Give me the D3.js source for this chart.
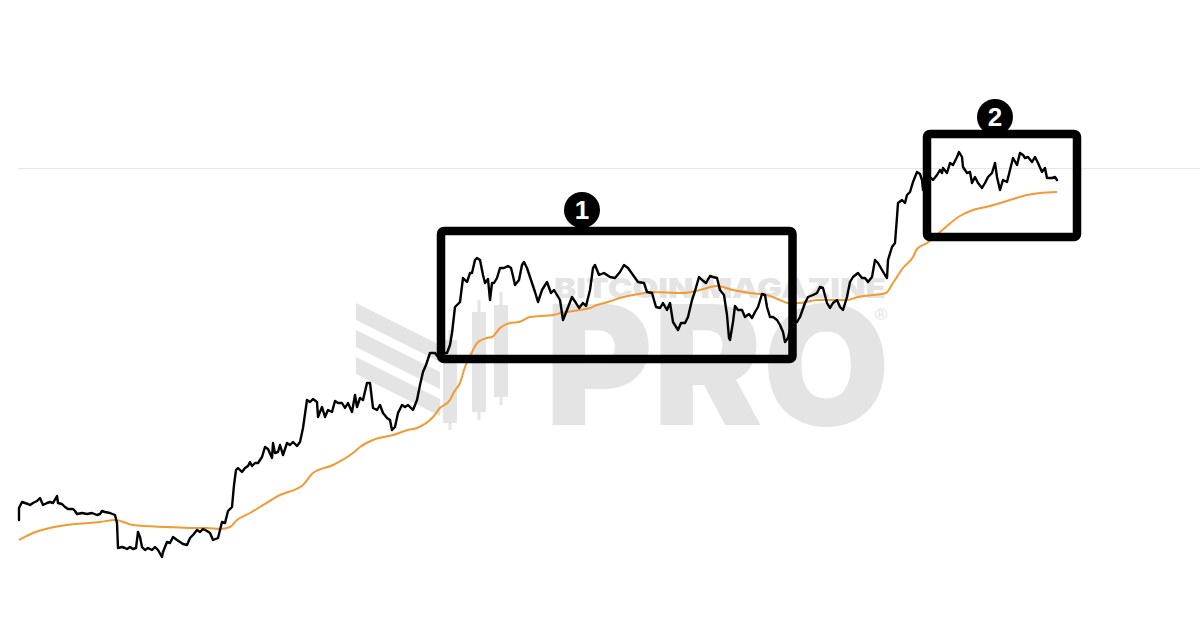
<!DOCTYPE html>
<html>
<head>
<meta charset="utf-8">
<script src="https://cdn.jsdelivr.net/npm/d3@7"></script>
<style>
html,body{margin:0;padding:0;background:#fff;}
svg{display:block;}
</style>
</head>
<body>
<svg id="chart" width="1200" height="619"></svg>
<script>
// ---- data (day index since start, value in chart units) ----
const priceDays = [0,0,3,6,9,11,14,18,21,24,28,31,34,38,39,43,46,49,54,56,58,63,68,73,78,81,83,86,91,96,98,99,103,106,108,111,114,117,119,121,123,126,129,133,136,139,143,144,148,151,154,158,161,164,168,171,174,178,181,184,188,191,194,199,201,203,206,209,213,215,217,219,223,226,229,231,233,236,239,243,246,249,253,254,256,259,261,264,268,271,274,278,281,284,288,291,294,298,299,303,306,309,313,316,319,323,326,329,333,336,338,341,344,348,351,354,358,361,364,368,371,373,376,379,383,386,389,394,398,401,404,407,411,416,419,423,428,431,433,436,441,444,448,451,453,456,458,461,464,466,469,471,473,475,478,481,485,489,492,494,496,500,503,505,508,512,516,519,523,528,532,535,541,544,548,553,557,560,564,567,571,574,576,580,585,591,596,601,605,609,614,619,625,628,633,637,641,644,648,651,654,659,662,666,669,673,676,680,683,687,691,694,698,701,705,708,710,711,714,716,719,723,726,730,733,736,739,743,746,748,751,754,758,761,764,766,769,773,778,781,786,789,794,798,801,804,808,811,814,818,821,824,828,831,834,839,843,846,849,853,856,859,863,866,868,869,873,876,878,879,883,886,888,891,894,898,901,903,904,908,911,914,918,921,923,924,928,931,934,938,940,943,944,948,951,953,956,959,963,966,969,973,976,978,981,984,988,991,994,998,1001,1004,1006,1009,1013,1016,1019,1023,1026,1028,1033,1036,1038];
const priceValues = [80,92,98,97,96,95,97,99,102,95,97,98,97,104,97,96,93,91,91,89,86,87,86,87,85,86,89,88,87,85,77,52,53,52,51,53,51,52,68,63,53,50,52,50,53,50,43,48,58,57,63,60,58,56,55,62,65,70,68,71,69,67,60,62,70,78,77,89,93,115,130,132,128,132,134,138,134,137,137,143,153,151,142,157,147,148,155,145,157,155,158,154,158,172,200,198,201,198,183,193,183,190,188,199,197,197,192,197,188,205,193,202,200,217,217,192,190,195,187,182,180,170,173,187,195,193,195,190,200,215,228,235,247,247,243,247,247,255,267,293,298,322,318,327,327,340,342,340,325,317,321,300,317,317,322,332,332,334,332,324,315,320,335,338,332,320,308,298,310,318,307,310,300,280,290,303,297,292,297,294,310,332,335,325,327,323,322,328,335,332,325,318,317,308,307,293,292,297,290,297,278,270,277,277,283,300,309,323,320,317,324,323,322,310,305,285,262,260,278,294,290,290,283,286,282,288,293,306,305,293,283,283,280,275,268,258,262,280,278,283,297,303,305,307,313,312,297,292,297,300,293,290,303,318,323,327,322,322,318,323,340,337,330,325,322,340,353,357,383,397,400,397,405,408,418,428,426,420,410,413,423,420,425,430,427,432,427,437,435,443,448,443,433,427,428,417,423,417,412,417,423,427,437,423,410,420,418,430,442,435,447,445,442,443,438,443,437,428,432,422,422,423,420];
const maDays = [0,14,31,48,81,96,114,148,174,188,201,211,218,231,241,261,284,294,314,334,341,354,374,389,398,414,421,431,435,441,446,454,459,468,473,481,491,500,511,534,542,561,571,578,589,601,614,625,631,664,681,698,714,731,748,761,769,781,798,828,839,867,874,884,894,898,908,921,941,954,971,991,1008,1021,1038];
const maValues = [60,67,72,75,78,80,75,73,72,72,71,73,80,87,93,105,115,127,135,147,153,160,165,170,172,183,192,200,208,217,233,250,258,262,263,272,277,278,283,285,287,290,292,295,298,302,305,307,308,307,310,314,310,307,305,300,297,297,300,300,303,307,317,332,343,351,357,368,384,390,394,400,405,407,408];
const gridValues = [431.5];
const boxLabels = ["1", "2"];
const boxDays = [[422, 773.5], [908, 1058]];
const boxRanges = [[241, 369], [363, 466]];
const labelDays = [563, 976];
const labelValues = [390, 483];

// ---- scales ----
const W = 1200, H = 619;
const x = d3.scaleLinear().domain([0, 1038]).range([19, 1057]);
const y = d3.scaleLinear().domain([0, 600]).range([600, 0]);

const svg = d3.select("#chart");

// grid line
svg.append("g").selectAll("line").data(gridValues).join("line")
  .attr("x1", 18).attr("x2", W)
  .attr("y1", d => y(d)).attr("y2", d => y(d))
  .attr("stroke", "#e6e6e6").attr("stroke-width", 1);

// ---- watermark ----
const WM = "#e4e4e4";
const wm = svg.append("g").attr("fill", WM);
[0, 1, 2].forEach(i => {
  const t = 303 + i * 27;
  wm.append("path")
    .attr("d", `M356,${t} L440,${t + 42} L440,${t + 59} L356,${t + 17} Z`);
});
[[450, 340, 423, 330, 430], [479, 312, 412, 300, 420], [501, 305, 397, 292, 405]].forEach(c => {
  wm.append("rect").attr("x", c[0] - 1.5).attr("y", c[3]).attr("width", 3).attr("height", c[4] - c[3]);
  wm.append("rect").attr("x", c[0] - 7).attr("y", c[1]).attr("width", 14).attr("height", c[2] - c[1]);
});
wm.append("text")
  .attr("x", 554).attr("y", 298)
  .attr("font-family", "Inter, Liberation Sans, Arial, sans-serif")
  .attr("font-weight", 900).attr("font-size", 27)
  .attr("textLength", 332).attr("lengthAdjust", "spacingAndGlyphs")
  .text("BITCOIN MAGAZINE");
wm.append("text")
  .attr("x", 545).attr("y", 425)
  .attr("font-family", "Inter, Liberation Sans, Arial, sans-serif")
  .attr("font-weight", 900).attr("font-size", 166)
  .attr("textLength", 345).attr("lengthAdjust", "spacingAndGlyphs")
  .text("PRO");
wm.append("text").attr("x", 881).attr("y", 320).attr("text-anchor", "middle")
  .attr("font-family", "Liberation Sans, Arial, sans-serif")
  .attr("font-size", 17).text("®");

// ---- lines ----
const priceData = priceDays.map((d, i) => [d, priceValues[i]]);
const maData = maDays.map((d, i) => [d, maValues[i]]);

svg.append("path").datum(maData)
  .attr("d", d3.line().x(d => x(d[0])).y(d => y(d[1])).curve(d3.curveMonotoneX))
  .attr("fill", "none").attr("stroke", "#f29a33").attr("stroke-width", 2)
  .attr("stroke-linejoin", "round");

svg.append("path").datum(priceData)
  .attr("d", d3.line().x(d => x(d[0])).y(d => y(d[1])))
  .attr("fill", "none").attr("stroke", "#000").attr("stroke-width", 2.4)
  .attr("stroke-linejoin", "round").attr("stroke-linecap", "round");

// ---- annotation boxes ----
const ann = svg.append("g");
boxLabels.forEach((lab, i) => {
  const x0 = x(boxDays[i][0]), x1 = x(boxDays[i][1]);
  const y0 = y(boxRanges[i][1]), y1 = y(boxRanges[i][0]);
  ann.append("rect")
    .attr("x", x0).attr("y", y0).attr("width", x1 - x0).attr("height", y1 - y0)
    .attr("rx", 3).attr("fill", "none").attr("stroke", "#000").attr("stroke-width", 8.5);
  const cx = x(labelDays[i]), cy = y(labelValues[i]);
  ann.append("circle").attr("cx", cx).attr("cy", cy).attr("r", 18).attr("fill", "#000");
  ann.append("text").attr("x", cx).attr("y", cy + 9).attr("text-anchor", "middle")
    .attr("font-family", "Liberation Sans, Arial, sans-serif").attr("font-weight", "bold")
    .attr("font-size", 26).attr("fill", "#fff").text(lab);
});
</script>
</body>
</html>
